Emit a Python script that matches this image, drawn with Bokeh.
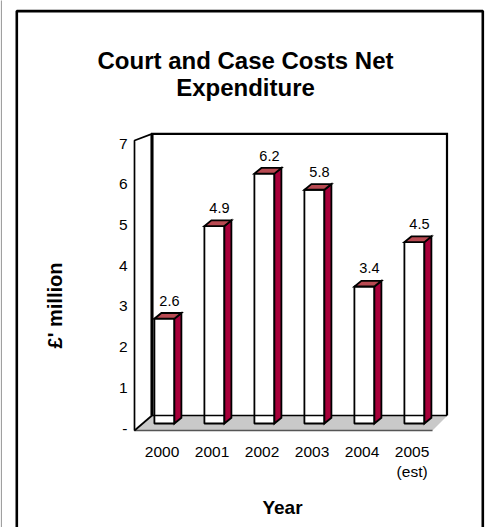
from bokeh.plotting import figure
from bokeh.embed import file_html
from bokeh.resources import INLINE
from bokeh.models import Range1d, LinearAxis, FixedTicker, BoxAnnotation, Label
from bokeh.core.properties import value
import math

years = ["2000", "2001", "2002", "2003", "2004", "2005\n(est)"]
costs = [2.6, 4.9, 6.2, 5.8, 3.4, 4.5]
value_labels = ["2.6", "4.9", "6.2", "5.8", "3.4", "4.5"]
y_ticks = [0, 1, 2, 3, 4, 5, 6, 7]
y_tick_labels = ["-", "1", "2", "3", "4", "5", "6", "7"]
title_lines = ["Court and Case Costs Net", "Expenditure"]
FONT = "Liberation Sans"

W, H = 486, 527
STEP, BAR0 = 50.0, 163.9       # px per category, page x of first bar centre
UNIT, BASE = 40.3, 423.0       # px per value unit, page y of value 0 on bars

def X(px): return (px - BAR0) / STEP
def Y(py): return (BASE - py) / UNIT

p = figure(width=W, height=H, output_backend="svg", toolbar_location=None,
           x_range=Range1d(X(0), X(W)), y_range=Range1d(Y(H), Y(0)),
           x_axis_location=None, y_axis_location=None,
           min_border=0, background_fill_color="white", border_fill_color="white",
           outline_line_color=None)
p.grid.visible = False

# axes: the front plane of the 3D box has its own scale
A_UNIT, A_BASE = 40.71, 428.0
p.extra_y_ranges["front"] = Range1d((A_BASE - H) / A_UNIT, A_BASE / A_UNIT)
yax = LinearAxis(y_range_name="front", ticker=FixedTicker(ticks=y_ticks), fixed_location=X(127),
                 major_label_overrides={t: s for t, s in zip(y_ticks, y_tick_labels)},
                 axis_line_color=None, major_tick_line_color=None, minor_tick_line_color=None,
                 major_tick_out=0, major_tick_in=0,
                 major_label_text_font=FONT, major_label_text_font_size="15.5px",
                 major_label_text_color="black", major_label_standoff=0)
p.add_layout(yax, "left")

p.extra_x_ranges["labels"] = Range1d((0 - 161.6) / STEP, (W - 161.6) / STEP)
xax = LinearAxis(x_range_name="labels", ticker=FixedTicker(ticks=list(range(6))), fixed_location=Y(442),
                 major_label_overrides={i: s for i, s in enumerate(years)},
                 axis_line_color=None, major_tick_line_color=None, minor_tick_line_color=None,
                 major_tick_out=0, major_tick_in=0,
                 major_label_text_font=FONT, major_label_text_font_size="15.5px",
                 major_label_text_color="black", major_label_standoff=0)
p.add_layout(xax, "below")

# box chrome
p.patch([X(133.5), X(152), X(447), X(432)], [Y(430), Y(415), Y(415), Y(430)],
        fill_color="#c9c9c9", line_color=None)
p.line([X(133.5), X(432)], [Y(430), Y(430)], line_color="#555555", line_width=1.6)
p.line([X(134), X(134), X(151.5)], [Y(430), Y(140), Y(133.4)], line_color="black", line_width=1.7)
p.line([X(134), X(151.5)], [Y(430), Y(415)], line_color="black", line_width=1.7)
p.line([X(151.5), X(151.5), X(446.5), X(446.5)], [Y(415), Y(133.4), Y(133.4), Y(415)],
       line_color="black", line_width=2.2, line_join="miter")
p.line([X(151.5), X(151.5)], [Y(415), Y(133.4)], line_color="black", line_width=3)

# bars
HW = 10.0 / STEP
DX, DY = 7.0 / STEP, 5.7 / UNIT
idx = list(range(len(costs)))
p.quad(left=[i - HW for i in idx], right=[i + HW for i in idx], bottom=0, top=costs,
       fill_color="white", line_color="black", line_width=1.8)
p.line([X(151.5), X(446.5)], [Y(415), Y(415)], line_color="black", line_width=1.5)
p.patches([[i + HW, i + HW + DX, i + HW + DX, i + HW] for i in idx],
          [[0, DY, v + DY, v] for v in costs],
          fill_color="#a8003a", line_color="black", line_width=1.8, line_join="miter")
p.patches([[i - HW, i + HW, i + HW + DX, i - HW + DX] for i in idx],
          [[v, v, v + DY, v + DY] for v in costs],
          fill_color="#b84a52", line_color="black", line_width=1.8, line_join="miter")
p.text(x=idx, y=costs, text=value_labels, text_font=value(FONT), text_font_size="14.5px",
       text_color="black", text_align="center", text_baseline="middle", x_offset=5, y_offset=-18)

# outer frame and text
p.add_layout(BoxAnnotation(left=X(16.3), right=X(482.3), top=Y(10.6), bottom=Y(560),
                           fill_color=None, line_color="black", line_alpha=1, line_width=2.6, level="overlay"))
p.add_layout(BoxAnnotation(left=X(0.3), right=X(1.3), top=Y(-5), bottom=Y(560),
                           fill_color="#888888", fill_alpha=1, line_color=None, level="overlay"))
for txt, x, y, size, ang in [
        (title_lines[0], 245, 60, "24px", 0),
        (title_lines[1], 245, 87, "24px", 0),
        ("Year", 282, 507, "19px", 0),
        ("£' million", 54, 305, "20px", math.pi / 2)]:
    p.add_layout(Label(x=X(x), y=Y(y), text=txt, angle=ang,
                       text_font=FONT, text_font_style="bold", text_font_size=size,
                       text_color="black", text_align="center", text_baseline="middle"))

open("out.html", "w").write(file_html(p, INLINE))
